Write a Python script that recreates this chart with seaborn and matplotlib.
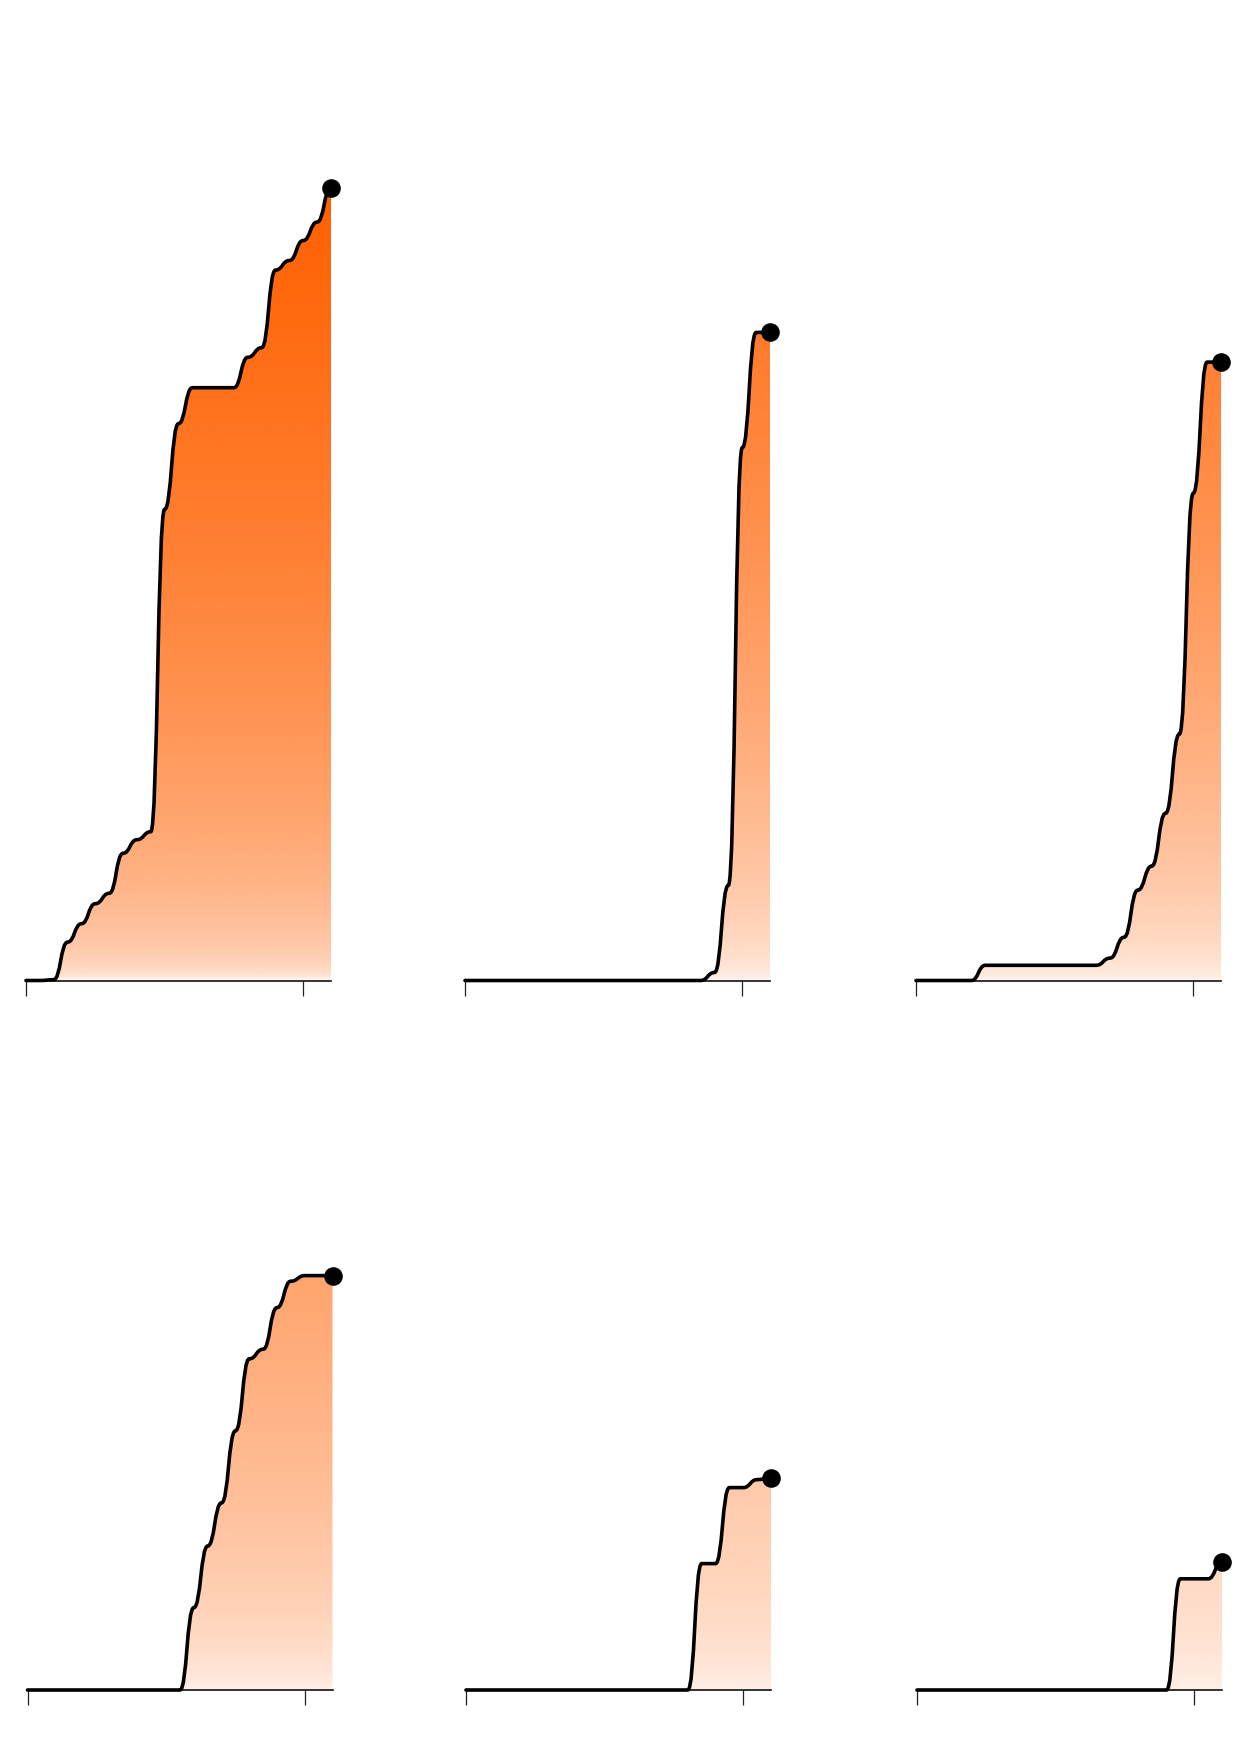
import numpy as np
import matplotlib
matplotlib.use("Agg")
import matplotlib.pyplot as plt
from matplotlib.path import Path
from matplotlib.patches import PathPatch
import seaborn as sns

sns.set_style("white")
plt.rcParams['font.family'] = ['DejaVu Sans']

# regular periods shared by all six panels, ticks on first and 21st
periods = list(range(23))
tick_periods = [0, 20]

# cumulative totals per period
series_a = [0, 0, 0.1, 4.8, 7.1, 9.6, 10.9, 15.9, 17.6, 18.6, 58.9, 69.6, 74.1,
            74.1, 74.1, 74.1, 77.9, 79.1, 88.8, 90.0, 92.5, 94.8, 99.1]
series_b = [0, 0, 0, 0, 0, 0, 0, 0, 0, 0, 0, 0, 0, 0, 0, 0, 0, 0, 1.0, 11.9,
            66.6, 81.0, 81.1]
series_c = [0, 0, 0, 0, 0, 1.9, 1.9, 1.9, 1.9, 1.9, 1.9, 1.9, 1.9, 1.9, 2.8,
            5.4, 11.3, 14.3, 20.9, 30.8, 60.9, 77.3, 77.3]
series_d = [0, 0, 0, 0, 0, 0, 0, 0, 0, 0, 0, 0, 10.3, 18.0, 23.4, 32.4, 41.4,
            42.6, 47.8, 51.1, 51.8, 51.8, 51.8]
series_e = [0, 0, 0, 0, 0, 0, 0, 0, 0, 0, 0, 0, 0, 0, 0, 0, 0, 15.8, 15.8,
            25.3, 25.3, 26.3, 26.5]
series_f = [0, 0, 0, 0, 0, 0, 0, 0, 0, 0, 0, 0, 0, 0, 0, 0, 0, 0, 0, 13.9,
            13.9, 13.9, 16.0]

panels = [series_a, series_b, series_c, series_d, series_e, series_f]
global_max = max(max(s) for s in panels)
orange = np.array([255, 96, 0]) / 255
# how fast each gradient darkens upward (biggest panel saturates sooner)
fill_gamma = [0.4, 0.55, 0.55, 0.55, 0.55, 0.55]


def bump_path(xs, ys, closed=False):
    # horizontal tangent at every point, like a bump-x curve
    verts = [(xs[0], ys[0])]
    codes = [Path.MOVETO]
    for i in range(1, len(xs)):
        xm = (xs[i - 1] + xs[i]) / 2
        verts += [(xm, ys[i - 1]), (xm, ys[i]), (xs[i], ys[i])]
        codes += [Path.CURVE4] * 3
    if closed:
        verts += [(xs[-1], 0), (xs[0], 0), (xs[0], ys[0])]
        codes += [Path.LINETO, Path.LINETO, Path.CLOSEPOLY]
    return Path(verts, codes)


W, H = 1240, 1754
fig = plt.figure(figsize=(W / 100, H / 100), dpi=100)

lefts = [[26, 465, 916], [27.5, 466, 917]]
# (baseline px, axes height px, y top) per row: 8 px per unit in both rows
rows = [(980.5, 880, 110), (1690, 480, 60)]

for i, vals in enumerate(panels):
    base, hpx, ytop = rows[i // 3]
    left = lefts[i // 3][i % 3]
    ax = fig.add_axes([left / W, (H - base) / H, 305 / W, hpx / H])
    ax.set_facecolor('none')

    vmax = max(vals)
    ratio = vmax / global_max
    a_top = 0.1 + 0.9 * ratio
    a0 = 0.08
    h = np.linspace(0, 1, 256)
    rgba = np.zeros((256, 1, 4))
    rgba[..., :3] = orange
    rgba[..., 3] = (a0 + (a_top - a0) * h ** fill_gamma[i])[:, None]

    area = PathPatch(bump_path(periods, vals, closed=True), facecolor='none',
                     edgecolor='none', transform=ax.transData)
    ax.add_patch(area)
    im = ax.imshow(rgba, extent=[periods[0], periods[-1], 0, vmax],
                   origin='lower', aspect='auto', interpolation='bilinear')
    im.set_clip_path(area)

    line = PathPatch(bump_path(periods, vals), facecolor='none',
                     edgecolor='black', lw=2.6, clip_on=False,
                     joinstyle='round', capstyle='round', zorder=4)
    ax.add_patch(line)

    sns.scatterplot(x=[periods[-1]], y=[vals[-1]], ax=ax, color='black',
                    s=180, linewidth=0, clip_on=False, legend=False, zorder=5)

    ax.set_xlim(periods[0], periods[-1])
    ax.set_ylim(0, ytop)
    ax.set_xticks(tick_periods)
    ax.set_yticks([])
    ax.set_xlabel('')
    ax.set_ylabel('')
    ax.tick_params(axis='x', bottom=True, direction='out', length=10.5,
                   width=0.9, color='#222222', labelbottom=False)
    sns.despine(ax=ax, left=True)
    ax.spines['bottom'].set_color('#111111')
    ax.spines['bottom'].set_linewidth(1.2)

fig.savefig('out.png', dpi=100)
